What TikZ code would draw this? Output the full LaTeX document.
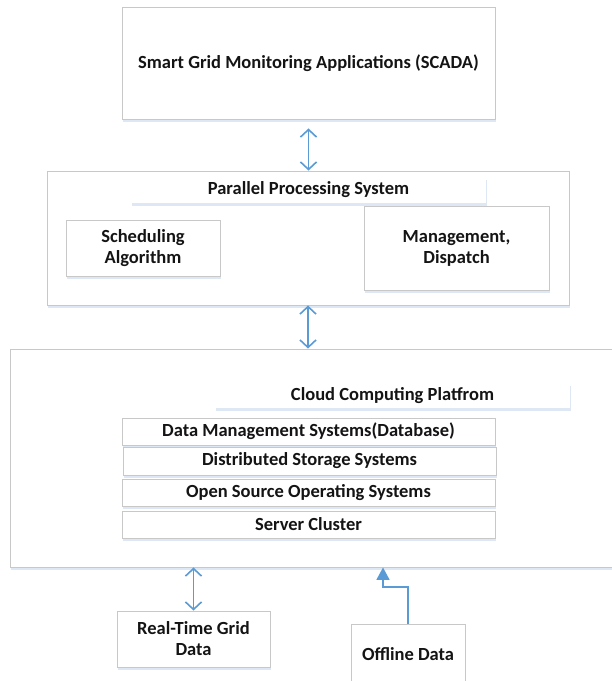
\documentclass[tikz,border=0pt]{standalone}
\usepackage{fontspec}
\setmainfont{Carlito}
\usetikzlibrary{arrows.meta,shadows}
\definecolor{boxline}{RGB}{200,200,200}
\definecolor{arrowblue}{RGB}{91,155,213}
\definecolor{shadowblue}{RGB}{222,232,244}
\definecolor{txt}{RGB}{20,20,20}
\tikzset{
  softshadow/.style={drop shadow={shadow xshift=1pt,shadow yshift=-2.5pt,fill=shadowblue,opacity=1}},
  box/.style={draw=boxline,line width=0.9pt,fill=white,softshadow,inner sep=0pt,
    font=\fontsize{18.5}{21}\selectfont\bfseries,text=txt,align=center},
  strip/.style={fill=white,softshadow,inner sep=0pt,
    font=\fontsize{18.5}{21}\selectfont\bfseries,text=txt,align=center},
  biarrow/.style={draw=arrowblue,line width=1.6pt,
    {Straight Barb[length=7.5pt,width=16pt,line width=1.6pt]}-{Straight Barb[length=7.5pt,width=16pt,line width=1.6pt]}},
  fillarrow/.style={draw=arrowblue,line width=1.8pt,-{Triangle[length=12.5pt,width=13pt]}},
}
\begin{document}
\begin{tikzpicture}[x=1pt,y=-1pt]
\useasboundingbox[fill=white] (0,0) rectangle (612,681);
% top box
\node[box,minimum width=373pt,minimum height=112pt] (top) at (308.5,63) {Smart Grid Monitoring Applications (SCADA)};
% parallel processing
\node[box,minimum width=522pt,minimum height=134pt] (par) at (308,238) {};
\node[strip,minimum width=355pt,minimum height=26pt] (parstrip) at (308.5,190) {Parallel Processing System};
\node[box,minimum width=154pt,minimum height=56pt] (sched) at (143,248) {Scheduling\\Algorithm};
\node[box,minimum width=185pt,minimum height=84pt] (mgmt) at (456.5,248) {Management,\\Dispatch};
% cloud platform
\node[box,minimum width=612pt,minimum height=218pt] (cloud) at (316,458) {};
\node[strip,minimum width=355pt,minimum height=25pt] (cloudstrip) at (392.5,395.5) {Cloud Computing Platfrom};
\node[box,minimum width=373pt,minimum height=27pt] (dm) at (308.5,431.5) {Data Management Systems(Database)};
\node[box,minimum width=373pt,minimum height=28pt] (ds) at (309.5,461) {Distributed Storage Systems};
\node[box,minimum width=373pt,minimum height=27pt] (os) at (308.5,492.5) {Open Source Operating Systems};
\node[box,minimum width=373pt,minimum height=27pt] (sc) at (308.5,524.5) {Server Cluster};
% data sources
\node[box,minimum width=153pt,minimum height=56pt] (rt) at (193.5,639) {Real-Time Grid\\Data};
\node[box,minimum width=114pt,minimum height=60pt] (off) at (408,654) {Offline Data};
% connectors
\coordinate (a1top) at ([yshift=-9pt]top.south);
\draw[biarrow] (a1top) -- (top.south |- par.north);
\draw[biarrow] (par.south -| par.center) -- (par.center |- cloud.north);
\draw[biarrow] (rt.north |- cloud.south) -- (rt.north);
\coordinate (offbend) at (383,587);
\draw[fillarrow] (off.north) |- (offbend) -- (offbend |- cloud.south);
\end{tikzpicture}
\end{document}
